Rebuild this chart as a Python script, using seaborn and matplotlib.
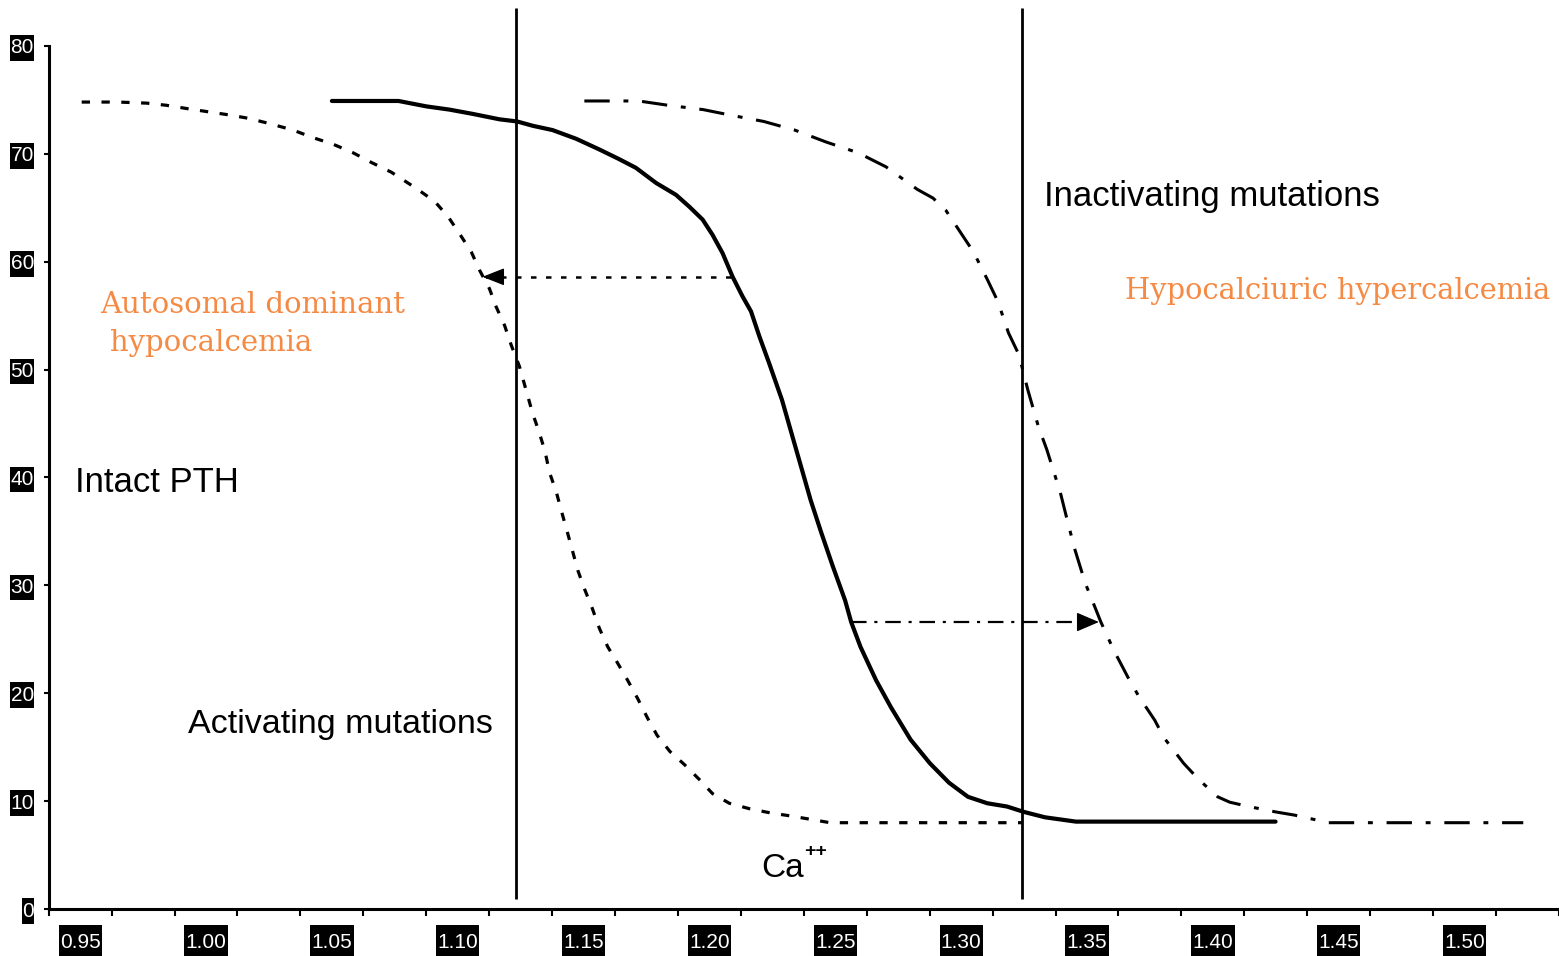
import matplotlib
matplotlib.use("Agg")
import matplotlib.pyplot as plt
from matplotlib.path import Path
import seaborn as sns
import pandas as pd

# ---------------- data ----------------
normal_x = [1.0500, 1.0765, 1.0875, 1.0967, 1.1060, 1.1166, 1.1236, 1.1298, 1.1377,
            1.1470, 1.1563, 1.1642, 1.1708, 1.1788, 1.1867, 1.1920, 1.1973, 1.2012,
            1.2052, 1.2092, 1.2131, 1.2165, 1.2198, 1.2237, 1.2288, 1.2326, 1.2364,
            1.2402, 1.2444, 1.2491, 1.2539, 1.2563, 1.2600, 1.2662, 1.2721, 1.2799,
            1.2876, 1.2952, 1.3027, 1.3104, 1.3182, 1.3249, 1.3333, 1.3456, 1.4249]
normal_y = [74.9, 74.9, 74.4, 74.1, 73.7, 73.2, 73.0, 72.6, 72.2,
            71.4, 70.4, 69.5, 68.7, 67.3, 66.2, 65.1, 63.9, 62.5,
            60.8, 58.6, 56.8, 55.4, 53.1, 50.6, 47.2, 44.1, 41.0,
            37.9, 34.9, 31.7, 28.6, 26.6, 24.3, 21.2, 18.7, 15.7,
            13.5, 11.7, 10.4, 9.8, 9.5, 9.0, 8.5, 8.1, 8.1]

activating_x = [0.9506, 0.9579, 0.9651, 0.9764, 0.9843, 0.9923, 1.0008, 1.0094, 1.0167,
                1.0253, 1.0346, 1.0425, 1.0504, 1.0584, 1.0657, 1.0736, 1.0835, 1.0908,
                1.0961, 1.1007, 1.1054, 1.1087, 1.1126, 1.1153, 1.1186, 1.1212, 1.1245,
                1.1298, 1.1322, 1.1347, 1.1364, 1.1391, 1.1413, 1.1437, 1.1457, 1.1477,
                1.1503, 1.1534, 1.1563, 1.1596, 1.1635, 1.1675, 1.1715, 1.1754, 1.1792,
                1.1843, 1.1900, 1.1960, 1.2012, 1.2079, 1.2158, 1.2244, 1.2330, 1.2479,
                1.3241]
activating_y = [74.8, 74.8, 74.8, 74.7, 74.5, 74.2, 73.9, 73.6, 73.3,
                72.8, 72.2, 71.5, 70.9, 70.1, 69.2, 68.3, 66.8, 65.6,
                64.2, 62.6, 60.9, 59.2, 57.5, 55.8, 54.1, 52.3, 50.3,
                45.9, 44.3, 42.4, 40.5, 38.7, 36.8, 34.8, 33.1, 31.4,
                29.7, 27.9, 26.0, 24.3, 22.8, 21.2, 19.5, 17.7, 16.1,
                14.6, 13.4, 12.0, 10.7, 9.8, 9.3, 8.9, 8.6, 8.0,
                8.0]

inactivating_x = [1.1503, 1.1594, 1.1719, 1.1836, 1.1975, 1.2081, 1.2216, 1.2339, 1.2463,
                  1.2590, 1.2701, 1.2826, 1.2888, 1.2938, 1.3049, 1.3105, 1.3146, 1.3188,
                  1.3229, 1.3265, 1.3307, 1.3340, 1.3394, 1.3424, 1.3452, 1.3493, 1.3531,
                  1.3555, 1.3606, 1.3662, 1.3706, 1.3769, 1.3805, 1.3884, 1.3944, 1.4019,
                  1.4067, 1.4142, 1.4249, 1.4325, 1.4460, 1.5233]
inactivating_y = [74.9, 74.9, 74.9, 74.5, 74.1, 73.6, 73.0, 72.2, 71.1,
                  70.1, 68.8, 66.7, 65.9, 64.8, 60.9, 58.3, 56.3, 53.4,
                  51.4, 48.1, 44.7, 42.6, 38.6, 35.8, 33.3, 30.2, 28.0,
                  26.6, 24.0, 21.5, 19.7, 17.5, 15.9, 13.5, 12.0, 10.4,
                  9.9, 9.5, 9.0, 8.7, 8.0, 8.0]

ref_lines_x = [1.1233, 1.3241]
ref_lines_range = [0.93, 83.5]

shift_left_y = 58.6
shift_left_x = [1.2085, 1.1174, 1.1098]     # start, head base, tip
shift_right_y = 26.6
shift_right_x = [1.2563, 1.3471, 1.3547]    # start, head base, tip

x_tick_values = [0.95, 1.00, 1.05, 1.10, 1.15, 1.20, 1.25, 1.30, 1.35, 1.40, 1.45, 1.50]
x_tick_labels = ["0.95", "1.00", "1.05", "1.10", "1.15", "1.20", "1.25", "1.30",
                 "1.35", "1.40", "1.45", "1.50"]
x_boundaries = [0.9375 + 0.025 * k for k in range(25)]
y_tick_values = [0, 10, 20, 30, 40, 50, 60, 70, 80]
y_tick_labels = ["0", "10", "20", "30", "40", "50", "60", "70", "80"]

# ---------------- style ----------------
sns.set_style("white")
plt.rcParams["font.family"] = ["Liberation Sans", "DejaVu Sans"]
orange = "#F58A45"


def tall_box(x0, y0, width, height, mutation_size, padx=0.06, pady=0.38):
    px = padx * mutation_size
    py = pady * mutation_size
    return Path([(x0 - px, y0 - py), (x0 + width + px, y0 - py),
                 (x0 + width + px, y0 + height + py), (x0 - px, y0 + height + py),
                 (x0 - px, y0 - py)], closed=True)


def small_box(x0, y0, width, height, mutation_size):
    return tall_box(x0, y0, width, height, mutation_size, padx=0.02, pady=0.16)


fig = plt.figure(figsize=(15.59, 9.56), dpi=100)
ax = fig.add_axes([0.03124, 0.04916, 0.96876, 0.95084])
ax.set_xlim(0.9375, 1.53683)
ax.set_ylim(0, 84.26)

df_n = pd.DataFrame({"x": normal_x, "y": normal_y})
df_a = pd.DataFrame({"x": activating_x, "y": activating_y})
df_i = pd.DataFrame({"x": inactivating_x, "y": inactivating_y})

sns.lineplot(data=df_n, x="x", y="y", ax=ax, color="black", lw=3.0,
             sort=False, estimator=None, errorbar=None)
sns.lineplot(data=df_a, x="x", y="y", ax=ax, color="black", lw=2.3,
             linestyle=(0, (2.6, 3.6)), sort=False, estimator=None, errorbar=None)
sns.lineplot(data=df_i, x="x", y="y", ax=ax, color="black", lw=2.2,
             linestyle=(0, (8.3, 4.5, 1.6, 4.5)), sort=False, estimator=None, errorbar=None)

# reference (normal range) lines
ax.vlines(ref_lines_x, ref_lines_range[0], ref_lines_range[1], color="black",
          lw=2.0, clip_on=False)

# shift arrows
ax.plot([shift_left_x[0], shift_left_x[2]], [shift_left_y, shift_left_y],
        color="black", lw=1.8, linestyle=(0, (2.2, 3.8)))
ax.annotate("", xy=(shift_left_x[2], shift_left_y), xytext=(shift_left_x[1], shift_left_y),
            arrowprops=dict(arrowstyle="-|>,head_length=1.37,head_width=0.54",
                            color="black", lw=1, shrinkA=0, shrinkB=0, mutation_scale=10))
ax.plot([shift_right_x[0], shift_right_x[1]], [shift_right_y, shift_right_y],
        color="black", lw=1.6, linestyle=(0, (7.0, 3.5, 1.4, 3.5)))
ax.annotate("", xy=(shift_right_x[2], shift_right_y), xytext=(shift_right_x[1], shift_right_y),
            arrowprops=dict(arrowstyle="-|>,head_length=1.4,head_width=0.6",
                            color="black", lw=1, shrinkA=0, shrinkB=0, mutation_scale=10))

# texts
ax.text(1.3329, 65.19, "Inactivating mutations", fontsize=25, color="black", va="baseline")
ax.text(0.94794, 38.66, "Intact PTH", fontsize=25, color="black", va="baseline")
ax.text(0.99278, 16.32, "Activating mutations", fontsize=24.5, color="black", va="baseline")
ax.text(1.2206, 2.97, "Ca", fontsize=24, color="black", va="baseline")
ax.text(1.2376, 5.3, "++", fontsize=14, color="black", va="center", fontweight="bold")
ax.text(0.9579, 55.25, "Autosomal dominant", fontsize=21, color=orange, va="baseline",
        family="DejaVu Serif")
ax.text(0.9619, 51.76, "hypocalcemia", fontsize=21, color=orange, va="baseline",
        family="DejaVu Serif")
ax.text(1.3652, 56.55, "Hypocalciuric hypercalcemia", fontsize=20.8, color=orange,
        va="baseline", family="DejaVu Serif")

# axes / spines
for s in ["top", "right"]:
    ax.spines[s].set_visible(False)
for s in ["left", "bottom"]:
    ax.spines[s].set_color("black")
    ax.spines[s].set_linewidth(2.2)
ax.spines["left"].set_bounds(0, 80)

ax.set_xticks(x_tick_values)
ax.set_xticklabels(x_tick_labels)
ax.set_xticks(x_boundaries, minor=True)
ax.set_yticks(y_tick_values)
ax.set_yticklabels(y_tick_labels)
ax.tick_params(axis="x", which="major", length=0, pad=17, labelsize=15, labelcolor="white")
ax.tick_params(axis="x", which="minor", length=5, width=1.5, direction="out", color="black",
               bottom=True)
ax.tick_params(axis="y", which="major", length=3.6, width=1.5, direction="out", color="black",
               left=True, pad=7, labelsize=15, labelcolor="white")
for lbl in ax.get_xticklabels():
    lbl.set_bbox(dict(boxstyle=tall_box, facecolor="black", edgecolor="none"))
for lbl in ax.get_yticklabels():
    lbl.set_bbox(dict(boxstyle=small_box, facecolor="black", edgecolor="none"))
ax.set_xlabel("")
ax.set_ylabel("")
ax.grid(False)

fig.savefig("out.png", dpi=100)
